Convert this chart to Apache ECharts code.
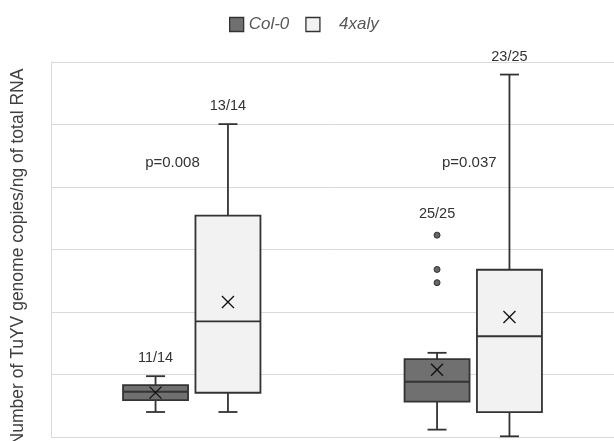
<!DOCTYPE html>
<html>
<head>
<meta charset="utf-8">
<script src="https://cdn.jsdelivr.net/npm/echarts@6/dist/echarts.min.js"></script>
<style>
html,body{margin:0;padding:0;background:#fff;}
#chart{width:614px;height:441px;}
</style>
</head>
<body>
<div id="chart"></div>
<script>
// ---- data ----
const categories = ['Group 1', 'Group 2'];
const seriesNames = ['Col-0', '4xaly'];
// [min, Q1, median, Q3, max]
const col0Stats = [[0.40, 0.59, 0.724, 0.83, 0.973], [0.118, 0.565, 0.884, 1.245, 1.347]];
const col0Means = [0.71, 1.075];
const col0Outliers = [[], [2.469, 2.681, 3.23]];
const col0Counts = ['11/14', '25/25'];
const xalyStats = [[0.40, 0.708, 1.851, 3.542, 5.006], [0.011, 0.399, 1.612, 2.676, 5.799]];
const xalyMeans = [2.161, 1.921];
const xalyOutliers = [[], []];
const xalyCounts = ['13/14', '23/25'];
const pValueTexts = ['p=0.008', 'p=0.037'];
const pValueY = [4.39, 4.38];
const yMin = 0, yMax = 6, yInterval = 1;
const yAxisTitle = 'Number of TuYV genome copies/ng of total RNA';

// ---- layout / style ----
const FONT = 'Liberation Sans, Arial, sans-serif';
const seriesOffset = [-36.2, 36.2];
const boxHalf = 32.5, capHalf = 9.5;
const fills = ['#707070', '#f2f2f2'];
const stroke = '#333333';
const pLabelDx = [-19.3, -4];
const countGap = 18;

function boxItems(stats, means, outliers, counts) {
  return stats.map((s, i) => {
    const top = Math.max(s[4], ...(outliers[i].length ? outliers[i] : [s[4]]));
    return { value: [i, s[0], s[1], s[2], s[3], s[4], means[i], top], label: counts[i], hasOut: outliers[i].length > 0 };
  });
}

function makeBoxRender(seriesIdx) {
  return function (params, api) {
    const ci = api.value(0);
    const cx = api.coord([ci, 0])[0] + seriesOffset[seriesIdx];
    const y = k => api.coord([ci, api.value(k)])[1];
    const yMinP = y(1), yQ1 = y(2), yMed = y(3), yQ3 = y(4), yMaxP = y(5), yMean = y(6), yTop = y(7);
    const ls = { stroke: stroke, lineWidth: 1.8 };
    const item = params.dataIndex;
    const src = seriesIdx === 0 ? col0Items[item] : xalyItems[item];
    const m = 6;
    const children = [
      { type: 'line', shape: { x1: cx, y1: yMinP, x2: cx, y2: yQ1 }, style: ls },
      { type: 'line', shape: { x1: cx, y1: yQ3, x2: cx, y2: yMaxP }, style: ls },
      { type: 'line', shape: { x1: cx - capHalf, y1: yMinP, x2: cx + capHalf, y2: yMinP }, style: ls },
      { type: 'line', shape: { x1: cx - capHalf, y1: yMaxP, x2: cx + capHalf, y2: yMaxP }, style: ls },
      { type: 'rect', shape: { x: cx - boxHalf, y: yQ3, width: boxHalf * 2, height: yQ1 - yQ3 },
        style: { fill: fills[seriesIdx], stroke: stroke, lineWidth: 1.8 } },
      { type: 'line', shape: { x1: cx - boxHalf, y1: yMed, x2: cx + boxHalf, y2: yMed }, style: ls },
      { type: 'line', shape: { x1: cx - m, y1: yMean - m, x2: cx + m, y2: yMean + m }, style: { stroke: '#111', lineWidth: 1.3 } },
      { type: 'line', shape: { x1: cx - m, y1: yMean + m, x2: cx + m, y2: yMean - m }, style: { stroke: '#111', lineWidth: 1.3 } },
      { type: 'text', style: { text: src.label, x: cx, y: yTop - countGap - (src.hasOut ? 3 : 0),
        align: 'center', verticalAlign: 'middle', textAlign: 'center', textVerticalAlign: 'middle',
        fill: '#333', fontSize: 14.5, fontFamily: FONT } }
    ];
    return { type: 'group', children: children };
  };
}

const col0Items = boxItems(col0Stats, col0Means, col0Outliers, col0Counts);
const xalyItems = boxItems(xalyStats, xalyMeans, xalyOutliers, xalyCounts);

function outlierData(outs) {
  const d = [];
  outs.forEach((arr, i) => arr.forEach(v => d.push([i, v])));
  return d;
}

function makeOutlierRender(seriesIdx) {
  return function (params, api) {
    const ci = api.value(0);
    const p = api.coord([ci, api.value(1)]);
    return { type: 'circle', shape: { cx: p[0] + seriesOffset[seriesIdx], cy: p[1], r: 3 },
      style: { fill: '#666', stroke: '#333', lineWidth: 1 } };
  };
}

const chart = echarts.init(document.getElementById('chart'), null, { renderer: 'canvas' });
chart.setOption({
  animation: false,
  backgroundColor: '#fff',
  legend: {
    left: 224, top: 11,
    icon: 'rect', itemWidth: 14, itemHeight: 14, itemGap: 16,
    data: [
      { name: seriesNames[0], icon: 'rect', itemStyle: { color: fills[0], borderColor: stroke, borderWidth: 1.3 } },
      { name: seriesNames[1], icon: 'rect', itemStyle: { color: fills[1], borderColor: stroke, borderWidth: 1.3 } }
    ],
    formatter: n => n === seriesNames[1] ? '   ' + n : n,
    textStyle: { fontSize: 17, fontStyle: 'italic', color: '#595959', fontFamily: FONT }
  },
  graphic: [{
    type: 'text', x: 18, y: 257, rotation: Math.PI / 2,
    style: { text: yAxisTitle, align: 'center', verticalAlign: 'middle', textAlign: 'center', textVerticalAlign: 'middle',
      fill: '#404040', fontSize: 17.5, fontFamily: FONT }
  }],
  grid: { left: 51, right: -1, top: 62, bottom: 4, containLabel: false },
  xAxis: {
    type: 'category', data: categories, boundaryGap: true,
    axisLine: { show: false }, axisTick: { show: false }, axisLabel: { show: false }, splitLine: { show: false }
  },
  yAxis: {
    type: 'value', min: yMin, max: yMax, interval: yInterval,
    axisLine: { show: true, lineStyle: { color: '#d9d9d9', width: 1 } },
    axisTick: { show: false }, axisLabel: { show: false },
    splitLine: { show: true, lineStyle: { color: '#d9d9d9', width: 1 } }
  },
  series: [
    { name: seriesNames[0], type: 'custom', renderItem: makeBoxRender(0), data: col0Items,
      encode: { x: 0, y: [1, 2, 3, 4, 5] }, itemStyle: { color: fills[0] }, z: 3 },
    { name: seriesNames[1], type: 'custom', renderItem: makeBoxRender(1), data: xalyItems,
      encode: { x: 0, y: [1, 2, 3, 4, 5] }, itemStyle: { color: fills[1] }, z: 3 },
    { name: 'Col-0 outliers', type: 'custom', renderItem: makeOutlierRender(0), data: outlierData(col0Outliers),
      encode: { x: 0, y: 1 }, z: 4 },
    { name: 'p-values', type: 'custom', data: pValueY.map((v, i) => [i, v]), encode: { x: 0, y: 1 }, z: 4,
      renderItem: function (params, api) {
        const i = params.dataIndex;
        const p = api.coord([api.value(0), api.value(1)]);
        return { type: 'text', style: { text: pValueTexts[i], x: p[0] + pLabelDx[i], y: p[1],
          align: 'center', verticalAlign: 'middle', textAlign: 'center', textVerticalAlign: 'middle',
          fill: '#333', fontSize: 15, fontFamily: FONT } };
      } }
  ]
});
</script>
</body>
</html>
